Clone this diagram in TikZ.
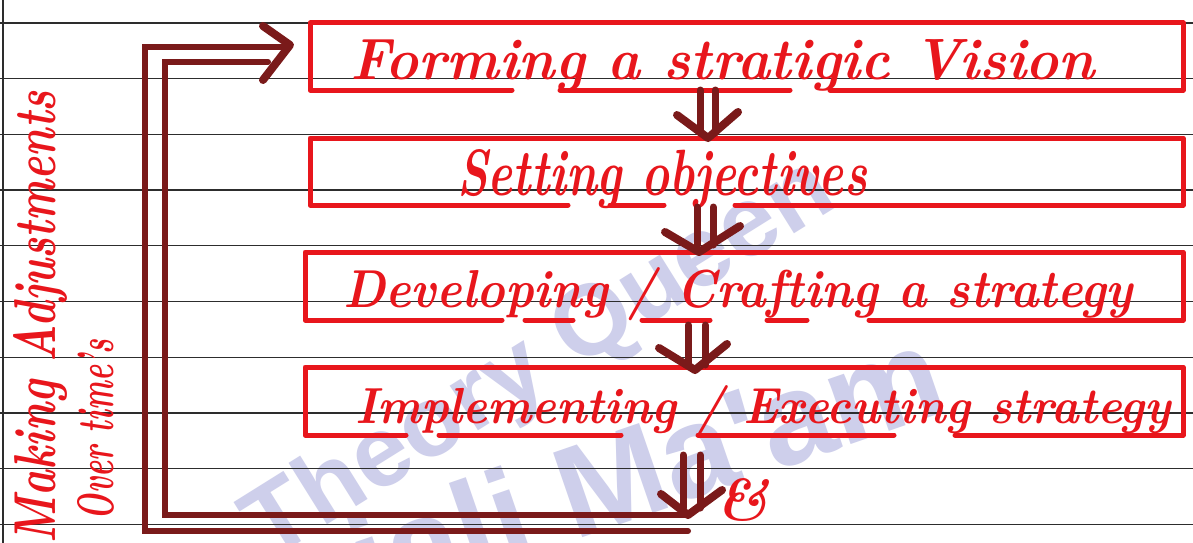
\documentclass[tikz,border=0pt]{standalone}
\usepackage{fontspec}
\usepackage{graphicx}
\newfontfamily\wmfont{Liberation Sans}
\usetikzlibrary{calc}
\definecolor{inkred}{RGB}{232,22,28}
\definecolor{inkmaroon}{RGB}{122,26,26}
\definecolor{ruleink}{RGB}{45,45,45}
\definecolor{wmark}{RGB}{206,207,235}

\begin{document}
\begin{tikzpicture}[x=1pt,y=-1pt,
  redline/.style={draw=inkred, line width=5pt, line cap=round, line join=round},
  loopline/.style={draw=inkmaroon, line width=6pt, line cap=round, line join=miter},
  shaft/.style={draw=inkmaroon, line width=7pt, line cap=round},
  chevron/.style={draw=inkmaroon, line width=8pt, line cap=round, line join=round},
  handtext/.style={inner sep=0pt, outer sep=0pt, text=inkred, font=\bfseries\itshape},
  wmtext/.style={inner sep=0pt, outer sep=0pt, text=wmark, font=\wmfont\bfseries},
  ruling/.style={draw=ruleink, line width=1.3pt}
]
\useasboundingbox (0,0) rectangle (1193,543);
\fill[white] (0,0) rectangle (1193,543);

% watermark
\begin{scope}
  \clip (0,0) rectangle (1193,543);
  \node[wmtext, rotate=32, anchor=base east] (wm1) at (840,205)
    {\fontsize{100}{100}\selectfont Theory Queen};
  \node[wmtext, rotate=19, anchor=base east] (wm2) at (952,410)
    {\fontsize{130}{130}\selectfont Anjali Ma'am};
\end{scope}

% notebook ruling
\foreach \i in {0,...,9}
  \draw[ruling] (0,{23+55.7*\i}) -- (1193,{23+55.7*\i});
\draw[ruling] (3,0) -- (3,543);

% step boxes
\draw[redline] (512,90) -- (310,90) -- (310,23) -- (1183,23) -- (1183,90) -- (830,90);
\draw[redline] (560,90) -- (790,90);
\node[handtext, anchor=base west] (t1) at (350,80) {\resizebox{745pt}{40pt}{Forming a stratigic Vision}};

\draw[redline] (568,205) -- (310,205) -- (310,138) -- (1183,138) -- (1183,205) -- (735,205);
\draw[redline] (610,205) -- (664,205);
\node[handtext, anchor=base west] (t2) at (457,195) {\resizebox{410pt}{46pt}{Setting objectives}};

\draw[redline] (502,320) -- (305,320) -- (305,252) -- (1183,252) -- (1183,320) -- (869,320);
\draw[redline] (525,320) -- (573,320);
\draw[redline] (642,320) -- (710,320);
\draw[redline] (767,320) -- (807,320);
\node[handtext, anchor=base west] (t3) at (343,307) {\resizebox{790pt}{40pt}{Developing / Crafting a strategy}};

\draw[redline] (406,435) -- (305,435) -- (305,367) -- (1183,367) -- (1183,435) -- (955,435);
\draw[redline] (439,435) -- (621,435);
\draw[redline] (698,435) -- (894,435);
\node[handtext, anchor=base west] (t4) at (355,423) {\resizebox{815pt}{38pt}{Implementing / Executing strategy}};

% double-shaft arrows between the steps
\coordinate (a1s) at (707,90);  \coordinate (a1t) at (708,138);
\coordinate (a2s) at (705,207); \coordinate (a2t) at (699,252);
\coordinate (a3s) at (696,325); \coordinate (a3t) at (695,370);
\coordinate (a4s) at (691,455); \coordinate (a4t) at (688,515);

\draw[shaft] ($(a1s)+(-7,0)$) -- ($(a1t)+(-8,-5)$);
\draw[shaft] ($(a1s)+(8,0)$) -- ($(a1t)+(7,-5)$);
\draw[chevron] ($(a1t)+(-31,-23)$) -- (a1t) -- ($(a1t)+(30,-26)$);

\draw[shaft] ($(a2s)+(-8,0)$) -- ($(a2t)+(-2,-7)$);
\draw[shaft] ($(a2s)+(8,0)$) -- ($(a2t)+(14,-7)$);
\draw[chevron] ($(a2t)+(-34,-20)$) -- (a2t) -- ($(a2t)+(41,-26)$);

\draw[shaft] ($(a3s)+(-8,0)$) -- ($(a3t)+(-7,-5)$);
\draw[shaft] ($(a3s)+(9,0)$) -- ($(a3t)+(10,-5)$);
\draw[chevron] ($(a3t)+(-36,-22)$) -- (a3t) -- ($(a3t)+(32,-26)$);

\draw[shaft] ($(a4s)+(-8,0)$) -- ($(a4t)+(-5,-7)$);
\draw[shaft] ($(a4s)+(9,0)$) -- ($(a4t)+(12,-7)$);
\draw[chevron] ($(a4t)+(-27,-21)$) -- (a4t) -- ($(a4t)+(34,-25)$);

% feedback loop back to the first step
\coordinate (lo1) at (688,531);
\coordinate (lo2) at (145,531);
\coordinate (lo3) at (145,47);
\coordinate (lo4) at (287,47);
\coordinate (li2) at (165,515);
\coordinate (li3) at (165,62);
\coordinate (li4) at (268,62);
\draw[loopline] (lo1) -- (lo2) -- (lo3) -- (lo4);
\draw[loopline] (a4t) -- (li2) -- (li3) -- (li4);
\draw[chevron] (263,26) -- (290,45) -- (263,80);

% side labels
\node[handtext, rotate=90, anchor=base west] (s1) at (55,543) {\resizebox{452pt}{42pt}{Making Adjustments}};
\node[handtext, rotate=90, anchor=base west] (s2) at (113,520) {\resizebox{180pt}{36pt}{Over time's}};
\node[handtext, anchor=base] (amp) at (743,520) {\resizebox{!}{42pt}{\&}};
\end{tikzpicture}
\end{document}
